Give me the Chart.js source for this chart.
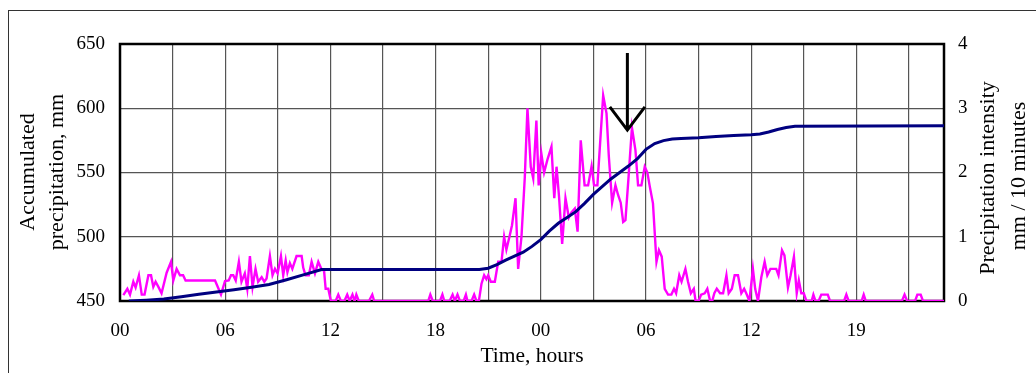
<!DOCTYPE html>
<html><head><meta charset="utf-8">
<script src="https://cdn.jsdelivr.net/npm/chart.js@4.4.1/dist/chart.umd.min.js"></script>
<style>html,body{margin:0;padding:0;background:#fff}#wrap{width:1036px;height:373px;position:relative}</style>
</head><body><div id="wrap"><canvas id="c"></canvas></div>
<script>
// ---- data ----
const gridHours = [0,3,6,9,12,15,18,21,24,27,30,33,36,39,42,45];
const hourLabels = ["00","06","12","18","00","06","12","19"];
const leftTicks = [450,500,550,600,650];
const rightTicks = [0,1,2,3,4];

const accHours = [0.5,1.5,2.5,3.5,4.5,5.5,6.5,7.5,8.5,9.5,10.5,11.5,20.5,21,21.5,22,22.5,23,23.5,24,24.5,25,25.5,26,26.5,27,27.5,28,28.5,29,29.5,30,30.5,31,31.5,32,33,34,35,36,36.5,37,37.5,38,38.5,47];
const accValues = [450,450.6,451.5,453.3,455.2,457,458.8,460.7,462.8,466.5,470.5,474.5,474.5,475.5,478.3,481.8,485,488,492.5,497.8,504.5,510.5,515,519.5,526,533,539,545,550,555,560.5,568,572.5,574.8,576,576.5,577,578,578.7,579.3,580,581.5,583.5,585,586,586.3];

const intHours = [0.19,0.42,0.57,0.76,0.89,1.08,1.24,1.40,1.62,1.77,1.90,2.03,2.19,2.37,2.66,2.91,3.04,3.23,3.42,3.60,3.74,5.42,5.76,5.99,6.20,6.33,6.46,6.60,6.78,6.93,7.12,7.26,7.41,7.56,7.73,7.88,8.08,8.23,8.36,8.55,8.70,8.84,8.99,9.18,9.31,9.45,9.55,9.69,9.83,10.07,10.36,10.45,10.58,10.77,10.93,11.12,11.31,11.50,11.64,11.73,11.88,12.03,
12.30,12.45,12.60,12.80,12.96,13.10,13.26,13.38,13.48,13.62,14.20,14.39,14.50,17.58,17.70,17.84,18.25,18.39,18.50,18.80,18.97,19.10,19.25,19.39,19.60,19.73,19.82,20.05,20.20,20.33,20.47,
20.62,20.77,20.90,21.00,21.15,21.38,21.57,21.76,21.91,22.04,22.23,22.36,22.56,22.71,22.90,23.09,23.24,23.43,23.57,23.75,23.88,24.03,24.19,24.38,24.61,24.77,24.90,25.04,25.22,25.41,25.60,25.75,25.94,26.10,26.28,26.50,26.70,26.90,27.04,27.23,27.56,27.75,27.88,28.07,28.26,28.41,28.56,28.70,28.83,29.00,29.20,29.40,29.55,29.74,29.93,30.08,30.22,30.40,30.60,30.74,30.90,31.07,31.26,31.45,31.60,31.72,31.90,32.03,32.25,32.40,32.56,32.73,32.83,33.00,33.15,33.35,33.50,33.66,33.78,33.90,34.04,34.23,34.40,34.59,34.72,34.90,35.06,35.25,35.44,35.60,35.72,35.90,36.10,36.23,36.39,36.58,36.77,36.92,37.10,37.43,37.56,37.76,37.90,38.10,38.25,38.44,38.60,38.72,38.86,39.00,39.15,39.45,39.55,39.67,39.85,40.00,40.37,40.50,41.30,41.43,41.56,42.30,42.42,42.54,44.60,44.75,44.90,45.35,45.48,45.67,45.80,47.00];
const intValues = [0.09,0.19,0.10,0.30,0.21,0.40,0.10,0.10,0.40,0.40,0.22,0.30,0.22,0.12,0.44,0.61,0.32,0.50,0.40,0.40,0.32,0.32,0.10,0.31,0.32,0.40,0.40,0.32,0.61,0.30,0.43,0.19,0.70,0.22,0.50,0.30,0.37,0.30,0.35,0.70,0.40,0.50,0.43,0.70,0.40,0.63,0.45,0.59,0.50,0.70,0.70,0.52,0.40,0.40,0.61,0.43,0.61,0.49,0.47,0.19,0.19,0,
0,0.10,0,0,0.10,0,0.10,0,0.10,0,0,0.10,0,0,0.10,0,0,0.10,0,0,0.10,0,0.10,0,0,0.10,0,0,0.10,0,0,
0.27,0.40,0.34,0.40,0.30,0.30,0.61,0.61,1.00,0.80,1.02,1.18,1.60,0.50,1.00,1.93,3.00,2.09,1.91,2.81,1.80,2.30,2.00,2.20,2.40,1.60,2.09,1.63,0.89,1.60,1.30,1.38,1.44,1.08,2.50,1.80,1.80,2.10,1.80,1.80,3.20,2.92,2.26,1.53,1.80,1.65,1.53,1.23,1.26,1.90,2.70,2.35,1.80,1.80,2.09,2.00,1.78,1.52,0.61,0.79,0.69,0.19,0.10,0.10,0.19,0.12,0.40,0.30,0.50,0.30,0.12,0.19,0,0,0.10,0.12,0.19,0,0,0.12,0.19,0.12,0.12,0.40,0.12,0.19,0.40,0.40,0.12,0.19,0.12,0,0.50,0.19,0,0.37,0.61,0.40,0.50,0.50,0.40,0.79,0.71,0.21,0.40,0.69,0.12,0.32,0.12,0.12,0,0,0.10,0,0,0.10,0.10,0,0,0.10,0,0,0.10,0,0,0.10,0,0,0.10,0.10,0,0];

const arrowMark = {hour: 28.94, top: 3.86, tip: 2.66, wing: 3.02, halfWidth: 1.0};
const FONT = '"Liberation Serif","Times New Roman",serif';

const pts = (xs, ys) => xs.map((x, i) => ({x, y: ys[i]}));

const deco = {
  id: 'deco',
  beforeDatasetsDraw(chart) {
    const {ctx, chartArea: a} = chart;
    ctx.save();
    ctx.strokeStyle = '#000';
    ctx.lineWidth = 2.5;
    ctx.strokeRect(a.left, a.top, a.right - a.left, a.bottom - a.top);
    ctx.restore();
  },
  afterDatasetsDraw(chart) {
    const {ctx, scales} = chart;
    const x = scales.x.getPixelForValue(arrowMark.hour);
    const xl = scales.x.getPixelForValue(arrowMark.hour - arrowMark.halfWidth);
    const xr = scales.x.getPixelForValue(arrowMark.hour + arrowMark.halfWidth);
    const yt = scales.y1.getPixelForValue(arrowMark.top);
    const yp = scales.y1.getPixelForValue(arrowMark.tip);
    const yw = scales.y1.getPixelForValue(arrowMark.wing);
    ctx.save();
    ctx.strokeStyle = '#000';
    ctx.lineWidth = 3;
    ctx.beginPath();
    ctx.moveTo(x, yt); ctx.lineTo(x, yp);
    ctx.moveTo(xl, yw); ctx.lineTo(x, yp); ctx.lineTo(xr, yw);
    ctx.stroke();
    ctx.restore();
  },
  afterDraw(chart) {
    const {ctx} = chart;
    ctx.save();
    ctx.strokeStyle = '#333';
    ctx.lineWidth = 1;
    ctx.strokeRect(8.5, 10.5, 1100, 500);
    ctx.fillStyle = '#000';
    ctx.font = '22px ' + FONT;
    const vtext = (t, x, y) => {
      ctx.save(); ctx.translate(x, y); ctx.rotate(-Math.PI / 2);
      ctx.textAlign = 'center'; ctx.textBaseline = 'middle';
      ctx.fillText(t, 0, 0); ctx.restore();
    };
    vtext('Accumulated', 28, 172);
    vtext('precipitation, mm', 57, 172);
    vtext('Precipitation intensity', 988, 178);
    vtext('mm / 10 minutes', 1019, 176);
    ctx.font = '21.5px ' + FONT;
    ctx.textAlign = 'center'; ctx.textBaseline = 'middle';
    ctx.fillText('Time, hours', 532, 356);
    ctx.restore();
  }
};

new Chart(document.getElementById('c'), {
  type: 'line',
  data: {
    datasets: [
      {label: 'Accumulated precipitation', data: pts(accHours, accValues), yAxisID: 'y',
       borderColor: '#000080', borderWidth: 3, pointRadius: 0, tension: 0, order: 0},
      {label: 'Precipitation intensity', data: pts(intHours, intValues), yAxisID: 'y1',
       borderColor: '#FF00FF', borderWidth: 2.4, pointRadius: 0, tension: 0, order: 1}
    ]
  },
  options: {
    responsive: true, maintainAspectRatio: false, animation: false,
    layout: {padding: {top: 44, left: 0, right: 0, bottom: 0}},
    plugins: {legend: {display: false}, tooltip: {enabled: false}},
    scales: {
      x: {
        type: 'linear', min: 0, max: 47,
        afterBuildTicks: s => { s.ticks = gridHours.map(v => ({value: v})); },
        afterFit: s => { s.height = 72; },
        grid: {color: '#555', lineWidth: 1.2, drawTicks: false},
        border: {display: false},
        ticks: {
          autoSkip: false, maxRotation: 0, padding: 19, color: '#000',
          font: {family: FONT, size: 19},
          callback: v => (v % 6 === 0 ? hourLabels[v / 6] : '')
        }
      },
      y: {
        position: 'left', min: 450, max: 650,
        afterBuildTicks: s => { s.ticks = leftTicks.map(v => ({value: v})); },
        afterFit: s => { s.width = 120; },
        grid: {color: '#555', lineWidth: 1.2, drawTicks: false},
        border: {display: false},
        ticks: {padding: 15, color: '#000', font: {family: FONT, size: 19}}
      },
      y1: {
        position: 'right', min: 0, max: 4,
        afterBuildTicks: s => { s.ticks = rightTicks.map(v => ({value: v})); },
        afterFit: s => { s.width = 92; },
        grid: {drawOnChartArea: false, drawTicks: false},
        border: {display: false},
        ticks: {padding: 14, color: '#000', font: {family: FONT, size: 19}}
      }
    }
  },
  plugins: [deco]
});
</script>
</body></html>
